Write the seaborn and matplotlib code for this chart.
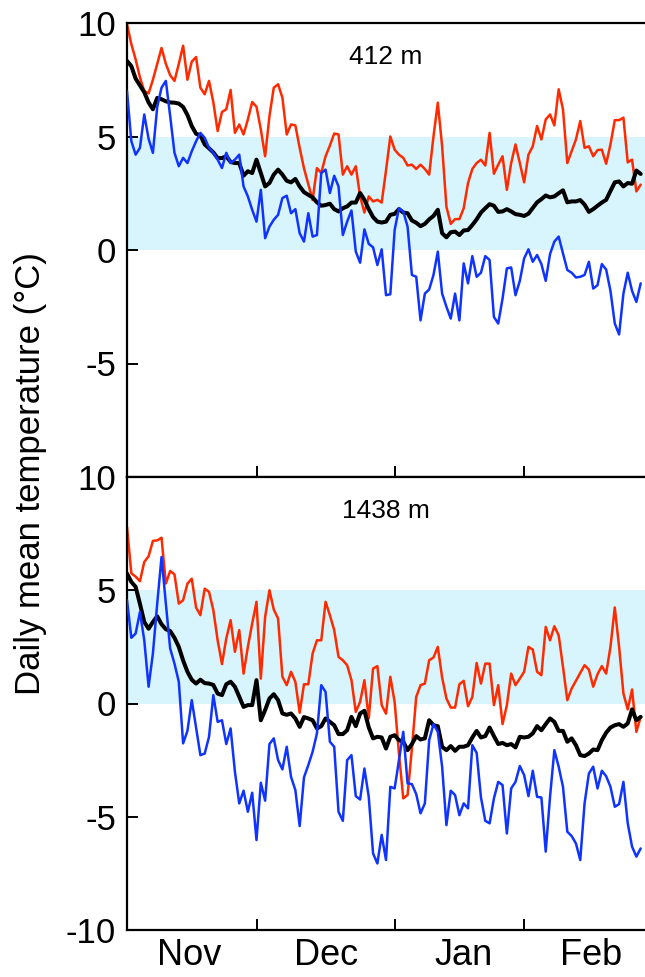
import numpy as np
import pandas as pd
import matplotlib
matplotlib.use("Agg")
import matplotlib.pyplot as plt
import seaborn as sns

# ---------------- data (daily means, 1 Nov .. 28 Feb) ----------------
days = list(range(120))

red_412 = [9.96, 9.07, 8.4, 7.6, 7.0, 6.9, 7.5, 8.2, 8.9, 8.2,
           7.7, 7.45, 8.2, 9.0, 7.5, 8.3, 8.5, 7.15, 6.86, 7.45,
           6.5, 5.24, 6.08, 6.2, 7.05, 5.16, 5.53, 5.09, 5.75, 6.52,
           6.31, 5.31, 4.13, 5.9, 7.15, 7.3, 6.71, 5.09, 5.53, 5.49,
           4.5, 3.6, 2.9, 2.2, 3.61, 3.39, 4.13, 4.6, 5.13, 5.09,
           3.32, 3.69, 3.32, 3.69, 2.36, 1.65, 2.36, 2.14, 2.21, 2.09,
           3.5, 5.0, 4.42, 4.2, 4.06, 3.72, 3.76, 3.57, 3.76, 3.57,
           3.32, 5.0, 6.49, 4.57, 1.9, 1.15, 1.36, 1.36, 1.84, 2.95,
           3.57, 3.83, 3.98, 3.72, 5.16, 3.36, 3.76, 4.13, 2.65, 3.83,
           4.65, 3.83, 2.98, 4.2, 4.57, 5.46, 4.87, 5.75, 5.97, 5.49,
           7.08, 6.19, 3.83, 4.35, 4.87, 5.68, 4.5, 4.57, 4.13, 4.4,
           4.42, 3.8, 4.65, 5.72, 5.72, 5.83, 3.86, 3.98, 2.58, 2.88]

black_412 = [8.33, 8.1, 7.55, 7.25, 6.95, 6.5, 6.2, 6.7, 6.64, 6.55,
             6.5, 6.49, 6.45, 6.3, 5.95, 5.46, 5.12, 5.05, 4.65, 4.48,
             4.3, 4.05, 4.05, 4.13, 3.88, 3.83, 3.83, 3.27, 3.47, 3.39,
             3.98, 3.39, 2.8, 2.95, 3.32, 3.54, 3.32, 3.05, 2.98, 3.13,
             2.8, 2.55, 2.43, 2.32, 2.1, 1.95, 1.98, 2.04, 1.8, 1.7,
             1.84, 1.92, 2.09, 2.09, 2.51, 2.21, 1.8, 1.45, 1.25, 1.21,
             1.25, 1.55, 1.59, 1.8, 1.65, 1.62, 1.3, 1.2, 1.05, 1.15,
             1.35, 1.5, 1.77, 0.74, 0.56, 0.78, 0.81, 0.66, 0.86, 0.88,
             1.1, 1.35, 1.65, 1.84, 2.02, 1.95, 1.68, 1.7, 1.8, 1.7,
             1.58, 1.55, 1.5, 1.6, 1.85, 2.1, 2.24, 2.4, 2.32, 2.36,
             2.5, 2.63, 2.1, 2.14, 2.14, 2.2, 2.0, 1.68, 1.8, 1.95,
             2.09, 2.21, 2.6, 2.98, 3.02, 2.8, 2.95, 2.92, 3.5, 3.35]

blue_412 = [7.0, 4.8, 4.2, 4.5, 5.97, 4.9, 4.28, 6.3, 7.15, 7.45,
            5.9, 4.28, 3.69, 4.06, 3.83, 4.35, 4.79, 5.16, 4.94, 4.5,
            4.28, 3.98, 3.61, 4.28, 3.83, 3.98, 4.2, 2.8, 2.36, 1.77,
            1.25, 2.65, 0.52, 1.03, 1.33, 1.55, 2.29, 2.39, 1.62, 1.8,
            0.74, 0.37, 1.62, 0.59, 0.66, 3.39, 3.54, 2.51, 3.27, 2.8,
            0.66, 1.25, 1.74, -0.07, -0.56, 0.91, 0.27, 0.12, -0.66, 0.03,
            -1.99, -1.95, 0.88, 1.84, 1.7, 1.03, -1.1, -1.18, -3.1, -1.92,
            -1.74, -1.1, -0.07, -1.92, -2.5, -3.02, -1.92, -3.1, -0.59, -1.47,
            -0.27, -1.18, -1.0, -0.27, -0.44, -2.95, -3.24, -2.14, -0.81, -0.77,
            -1.99, -1.36, -0.37, 0.03, -0.52, -0.22, -0.62, -1.36, -0.18, 0.37,
            0.59, -0.15, -0.88, -1.0, -1.21, -1.18, -1.1, -0.52, -1.7, -1.55,
            -0.62, -0.86, -1.8, -3.24, -3.72, -1.92, -1.0, -1.8, -2.29, -1.47]

red_1438 = [7.8, 5.75, 5.6, 5.4, 6.25, 6.5, 7.18, 7.2, 7.32, 5.3,
            5.85, 5.7, 4.41, 4.56, 5.29, 5.51, 4.24, 3.9, 5.07, 4.93,
            4.12, 2.79, 1.74, 2.87, 3.68, 2.28, 3.24, 1.32, 2.5, 3.53,
            4.49, 1.1, 3.82, 5.0, 4.15, 3.75, 1.18, 0.81, 1.4, 0.96,
            -0.41, 0.85, 0.85, 2.21, 2.79, 2.79, 4.49, 3.9, 3.24, 2.06,
            1.91, 1.69, 1.03, -0.37, 0.07, 1.03, -0.66, 1.54, 1.65, -0.07,
            -0.45, 1.18, 0.07, -2.21, -4.19, -4.04, -1.99, 0.29, 0.81, 0.88,
            1.91, 2.03, 2.5, 1.15, 0.22, -0.18, -0.18, 0.85, 1.0, -0.12,
            0.29, 1.79, 0.88, 1.76, 1.76, -0.07, 0.81, -0.91, -0.07, 1.32,
            0.81, 1.1, 1.4, 2.5, 2.38, 1.4, 1.25, 3.38, 2.79, 3.41,
            3.01, 1.62, 0.15, 0.66, 1.0, 1.35, 1.69, 1.5, 0.74, 1.29,
            1.65, 1.32, 2.5, 4.24, 2.5, 0.44, -0.26, 0.62, -1.25, -0.59]

black_1438 = [5.74, 5.37, 5.15, 4.4, 3.6, 3.3, 3.6, 3.85, 3.5, 3.28,
              3.2, 2.9, 2.5, 1.9, 1.4, 1.05, 0.88, 1.05, 0.9, 0.88,
              0.82, 0.44, 0.37, 0.85, 0.96, 0.74, 0.3, -0.15, -0.07, -0.07,
              1.03, -0.74, -0.29, 0.22, 0.41, 0.15, -0.44, -0.5, -0.44, -0.66,
              -1.03, -0.6, -0.66, -0.74, -1.1, -1.0, -0.66, -0.81, -0.96, -1.35,
              -1.35, -1.18, -0.59, -1.0, -0.44, -0.32, -1.05, -1.54, -1.47, -1.5,
              -1.99, -1.47, -1.4, -1.62, -1.69, -2.06, -1.79, -1.44, -1.59, -1.54,
              -0.74, -0.96, -1.0, -1.91, -2.06, -1.88, -2.09, -1.91, -1.91, -1.84,
              -1.5, -1.21, -1.5, -1.44, -1.06, -1.44, -1.79, -1.74, -1.84, -1.79,
              -1.94, -1.47, -1.5, -1.47, -1.32, -1.0, -1.18, -0.91, -0.66, -0.81,
              -1.21, -1.21, -1.69, -1.54, -1.84, -2.28, -2.32, -2.21, -2.03, -2.06,
              -1.62, -1.29, -1.06, -0.96, -0.91, -1.03, -0.88, -0.26, -0.74, -0.59]

blue_1438 = [4.56, 2.9, 3.09, 4.04, 2.79, 0.74, 2.21, 4.41, 6.47, 4.41,
             2.43, 1.76, 0.96, -1.76, -1.21, 0.15, -1.06, -2.28, -2.21, -1.47,
             0.37, -0.81, -0.74, -1.79, -1.1, -3.01, -4.41, -3.85, -4.78, -3.94,
             -6.03, -3.5, -4.29, -1.79, -1.54, -2.5, -2.91, -1.91, -3.24, -3.82,
             -5.41, -3.26, -2.72, -2.13, -1.32, 0.81, 0.51, -1.69, -1.91, -4.78,
             -5.18, -2.5, -2.28, -4.09, -4.24, -2.87, -4.12, -6.62, -7.06, -5.8,
             -6.91, -3.68, -3.75, -2.5, -1.25, -3.53, -3.56, -4.0, -4.85, -4.41,
             -1.62, -0.91, -1.25, -2.79, -5.37, -3.85, -4.04, -4.93, -4.41, -4.63,
             -1.84, -2.18, -4.15, -5.18, -5.29, -4.19, -3.46, -3.6, -5.74, -3.75,
             -3.46, -2.76, -3.16, -4.09, -2.97, -4.12, -4.15, -6.54, -4.12, -2.06,
             -2.79, -3.68, -5.66, -5.85, -6.18, -6.91, -4.41, -3.09, -2.79, -3.75,
             -2.97, -3.21, -3.68, -4.56, -4.44, -3.46, -5.29, -6.32, -6.76, -6.4]

panel_titles = ["412 m", "1438 m"]
month_labels = ["Nov", "Dec", "Jan", "Feb"]
month_label_pos = [14.5, 46.0, 78.0, 107.5]
month_bounds = [30, 62, 92]
band = (0, 5)

# ---------------- styling ----------------
sns.set_theme(style="white")
plt.rcParams["font.family"] = ["Liberation Sans", "DejaVu Sans"]
plt.rcParams["axes.unicode_minus"] = False
plt.rcParams["text.color"] = "black"
plt.rcParams["xtick.color"] = "black"
plt.rcParams["ytick.color"] = "black"
plt.rcParams["axes.labelcolor"] = "black"

RED = "#ff2a00"
BLUE = "#1034ff"
BAND = "#d8f4fc"

fig = plt.figure(figsize=(6.45, 9.77), dpi=100)
L, R = 127 / 645, 1.0
y_top, y_mid, y_bot = 1 - 23 / 977, 1 - 477 / 977, 1 - 930 / 977
ax1 = fig.add_axes([L, y_mid, R - L, y_top - y_mid])
ax2 = fig.add_axes([L, y_bot, R - L, y_mid - y_bot], sharex=ax1)

series = [(red_412, black_412, blue_412), (red_1438, black_1438, blue_1438)]
for ax, (r, k, b), title in zip([ax1, ax2], series, panel_titles):
    df = pd.DataFrame({"day": days, "red": r, "black": k, "blue": b})
    ax.axhspan(band[0], band[1], color=BAND, lw=0, zorder=0)
    sns.lineplot(data=df, x="day", y="red", color=RED, lw=1.8, ax=ax, zorder=2)
    sns.lineplot(data=df, x="day", y="black", color="black", lw=2.9, ax=ax, zorder=3)
    sns.lineplot(data=df, x="day", y="blue", color=BLUE, lw=1.8, ax=ax, zorder=4)
    ax.set_xlim(0, 120)
    ax.set_ylim(-10, 10)
    ax.set_xlabel("")
    ax.set_ylabel("")
    ax.text(0.5, 0.925, title, transform=ax.transAxes, ha="center", va="center",
            fontsize=19, color="black")
    for s in ["left", "top", "bottom"]:
        ax.spines[s].set_visible(True)
        ax.spines[s].set_color("black")
        ax.spines[s].set_linewidth(1.6)
    ax.spines["right"].set_visible(False)
    ax.tick_params(axis="both", which="major", direction="in", length=8,
                   width=1.4, color="black", labelcolor="black", labelsize=25,
                   pad=8, left=True, bottom=True)
    ax.set_xticks(month_bounds)
    ax.set_xticks(month_label_pos, minor=True)
    ax.tick_params(axis="x", which="minor", length=0, labelsize=26, pad=6,
                   labelcolor="black")
    ax.set_facecolor("white")

ax1.set_yticks([10, 5, 0, -5])
ax1.set_yticklabels(["10", "5", "0", "-5"])
ax1.tick_params(axis="x", which="both", labelbottom=False)

ax2.set_yticks([10, 5, 0, -5, -10])
ax2.set_yticklabels(["10", "5", "0", "-5", "-10"])
ax2.set_xticklabels([])
ax2.set_xticklabels(month_labels, minor=True)

fig.text(0.047, 1 - 474 / 977, "Daily mean temperature (\u00b0C)", rotation=90,
         ha="center", va="center", fontsize=25, color="black")

fig.savefig("out.png", dpi=100)
